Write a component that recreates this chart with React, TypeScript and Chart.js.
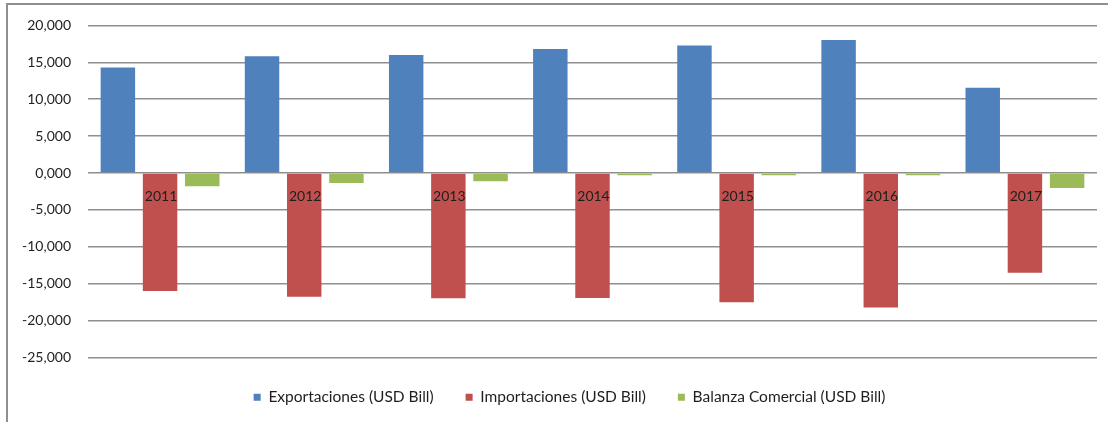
import React, { useEffect, useRef } from 'react';
import { Chart, registerables } from 'chart.js';

Chart.register(...registerables);

const categories = ['2011', '2012', '2013', '2014', '2015', '2016', '2017'];
const exportaciones = [14.28, 15.81, 16.0, 16.81, 17.26, 18.03, 11.54];
const importaciones = [-15.99, -16.76, -16.98, -16.93, -17.52, -18.24, -13.51];
const balanza = [-1.8, -1.35, -1.12, -0.31, -0.31, -0.31, -2.03];
const seriesNames = [
  'Exportaciones (USD Bill)',
  'Importaciones (USD Bill)',
  'Balanza Comercial (USD Bill)',
];
const seriesColors = ['#4F81BD', '#C0504D', '#9BBB59'];
const yMin = -25;
const yMax = 20;
const yStep = 5;

const FONT = 'Lato, "Open Sans", "Liberation Sans", sans-serif';
const TEXT = '#1e1e1e';
const LEGEND_CENTER = 569.5;

const categoryLabels = {
  id: 'categoryLabels',
  afterLayout(chart: any) {
    const l = chart.legend;
    if (l) {
      const shift = LEGEND_CENTER - (l.left + l.right) / 2;
      l.left += shift;
      l.right += shift;
    }
  },
  afterDatasetsDraw(chart: any) {
    const { ctx, scales } = chart;
    const x = scales.x;
    const y = scales.y;
    const y0 = y.getPixelForValue(0);
    ctx.save();
    ctx.font = `14px ${FONT}`;
    ctx.fillStyle = TEXT;
    ctx.textAlign = 'center';
    ctx.textBaseline = 'middle';
    categories.forEach((c, i) => {
      ctx.fillText(c, x.getPixelForValue(i) + 1, y0 + 23);
    });
    ctx.restore();
  },
};

export default function App() {
  const canvasRef = useRef<HTMLCanvasElement | null>(null);

  useEffect(() => {
    if (!canvasRef.current) return;
    const series = [exportaciones, importaciones, balanza];
    const chart = new Chart(canvasRef.current, {
      type: 'bar',
      data: {
        labels: categories,
        datasets: series.map((d, i) => ({
          label: seriesNames[i],
          data: d,
          backgroundColor: seriesColors[i],
          borderWidth: 0,
          categoryPercentage: 0.878,
          barPercentage: 0.817,
        })),
      },
      options: {
        responsive: false,
        animation: false,
        maintainAspectRatio: false,
        layout: { padding: { left: 2, right: 11, top: 24, bottom: 7 } },
        plugins: {
          tooltip: { enabled: false },
          legend: {
            position: 'bottom',
            labels: {
              boxWidth: 7,
              boxHeight: 7,
              padding: 32,
              color: TEXT,
              font: { size: 15.5, family: FONT },
            },
          },
        },
        scales: {
          x: { display: false },
          y: {
            min: yMin,
            max: yMax,
            afterFit: (s: any) => {
              s.width = 86;
            },
            border: { display: false },
            grid: { color: '#8f8f8f', lineWidth: 1.5, drawTicks: false },
            ticks: {
              stepSize: yStep,
              padding: 17,
              color: TEXT,
              font: { size: 14, family: FONT },
              callback: (v: any) => Number(v).toFixed(3).replace('.', ','),
            },
          },
        },
      },
      plugins: [categoryLabels],
    });
    return () => chart.destroy();
  }, []);

  return (
    <div style={{ position: 'fixed', left: 0, top: 0, width: 1108, height: 422, overflow: 'hidden', background: '#fff' }}>
      <div
        style={{
          position: 'absolute',
          left: 6,
          top: 3,
          width: 1200,
          height: 600,
          border: '2px solid #8f8f8f',
          boxSizing: 'border-box',
        }}
      />
      <canvas
        ref={canvasRef}
        width={1108}
        height={422}
        style={{ position: 'absolute', left: 0, top: 0, width: 1108, height: 422 }}
      />
    </div>
  );
}
